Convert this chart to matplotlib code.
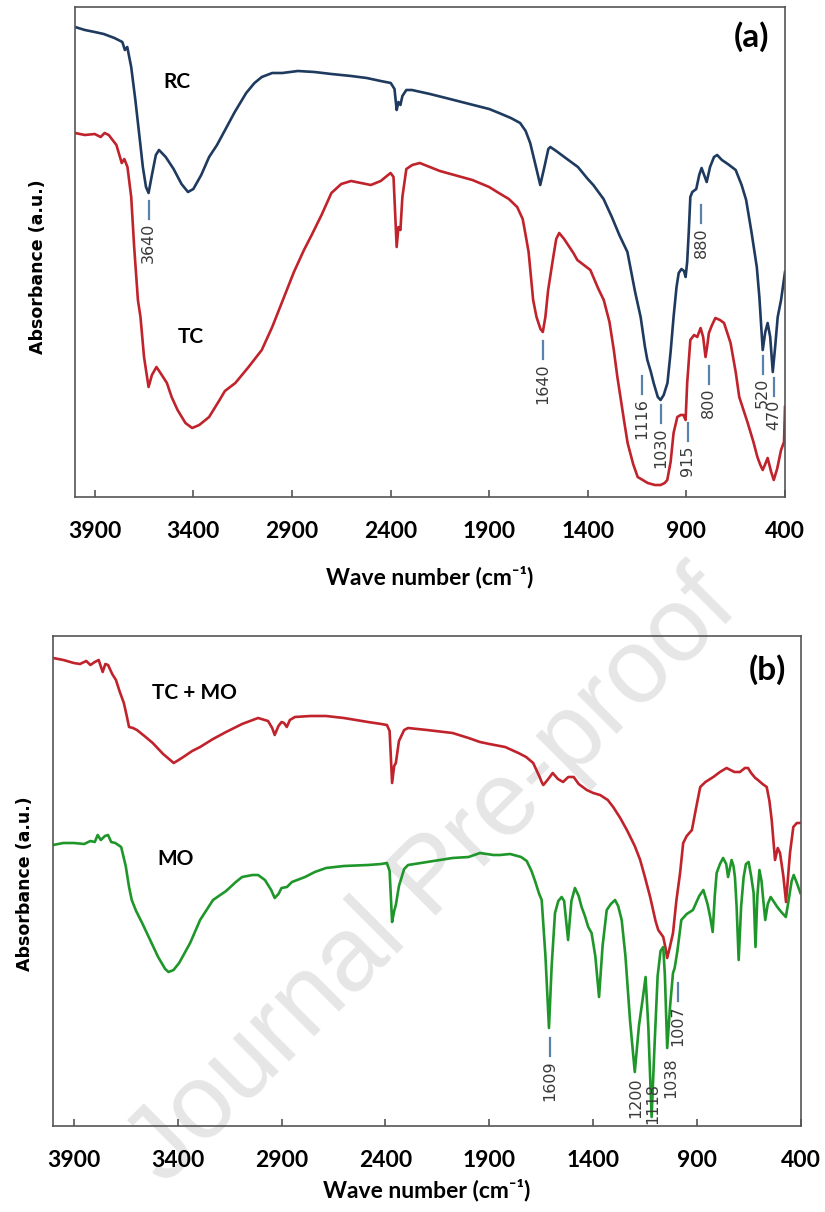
import numpy as np
import matplotlib
matplotlib.use('Agg')
import matplotlib.pyplot as plt

# ---------------- data (wavenumber in cm-1, absorbance in a.u.) ----------------
wn_rc = [4000, 3950, 3900, 3854, 3800, 3760, 3747, 3735, 3715, 3694, 3670, 3656, 3640,
         3627, 3610, 3590, 3574, 3540, 3500, 3460, 3427, 3400, 3360, 3320, 3280, 3239,
         3190, 3132, 3090, 3053, 3000, 2949, 2870, 2786, 2700, 2600, 2521, 2450, 2399,
         2380, 2369, 2360, 2350, 2340, 2320, 2292, 2200, 2119, 2000, 1900, 1850, 1790,
         1743, 1715, 1692, 1665, 1641, 1620, 1600, 1590, 1560, 1519, 1450, 1400, 1372,
         1320, 1278, 1240, 1199, 1160, 1132, 1110, 1098, 1080, 1066, 1045, 1031, 1015,
         996, 980, 965, 950, 939, 925, 912, 904, 896, 888, 880, 870, 850, 835, 823, 810,
         797, 780, 760, 744, 720, 690, 650, 620, 597, 570, 543, 530, 513, 500, 488, 475,
         462, 450, 437, 420, 400]
ab_rc = [470, 467, 465, 463, 459, 455, 447, 450, 430, 397, 355, 330, 310,
         304, 322, 342, 347, 340, 328, 313, 305, 308, 322, 340, 352, 367,
         385, 404, 414, 420, 424, 424, 426, 425, 423, 421, 419, 416, 414,
         408, 387, 395, 392, 401, 407, 407, 403, 399, 393, 388, 384, 379,
         374, 366, 354, 332, 312, 330, 348, 350, 346, 340, 330, 318, 312,
         298, 280, 262, 245, 205, 180, 150, 137, 125, 114, 100, 97, 102,
         114, 145, 180, 210, 224, 228, 226, 220, 235, 265, 300, 305, 308, 322, 329, 322,
         315, 330, 340, 342, 337, 333, 327, 312, 297, 265, 230, 200, 147, 165, 174, 160,
         125, 150, 180, 197, 225]

wn_tc = [4000, 3950, 3900, 3870, 3850, 3829, 3790, 3763, 3750, 3734, 3715, 3700, 3681,
         3668, 3650, 3627, 3610, 3587, 3560, 3534, 3510, 3480, 3440, 3406, 3370, 3320,
         3267, 3240, 3187, 3120, 3053, 3000, 2946, 2890, 2839, 2800, 2750, 2700, 2650,
         2600, 2550, 2500, 2450, 2400, 2385, 2369, 2360, 2350, 2340, 2320, 2290, 2252,
         2150, 1985, 1900, 1851, 1800, 1758, 1730, 1717, 1700, 1677, 1660, 1640, 1628,
         1615, 1601, 1575, 1560, 1545, 1520, 1473, 1453, 1387, 1346, 1319, 1290, 1268,
         1250, 1232, 1215, 1198, 1170, 1147, 1096, 1060, 1031, 1010, 997, 980, 965, 946,
         929, 915, 904, 896, 880, 861, 845, 828, 815, 803, 795, 786, 770, 753, 730, 709,
         676, 650, 632, 589, 560, 540, 525, 513, 500, 488, 470, 457, 440, 420, 405, 400]
ab_tc = [364, 362, 363, 360, 364, 362, 352, 334, 338, 330, 300, 250, 197,
         180, 140, 110, 122, 130, 122, 114, 100, 87, 74, 69, 72, 80,
         97, 106, 114, 130, 147, 170, 197, 225, 247, 262, 282, 304, 313,
         316, 314, 312, 316, 324, 320, 250, 270, 267, 300, 328, 332, 334,
         326, 317, 310, 304, 298, 290, 278, 264, 245, 197, 180, 168, 165,
         180, 207, 240, 258, 264, 258, 244, 237, 227, 208, 197, 175, 147,
         120, 97, 75, 54, 33, 20, 14, 12, 12, 14, 17, 35, 64, 80,
         82, 82, 77, 114, 157, 162, 160, 169, 160, 140, 150, 164, 172, 179, 177, 174,
         154, 125, 100, 74, 55, 40, 32, 27, 33, 39, 25, 17, 28, 47, 55, 90]

wn_tcmo = [4000, 3950, 3900, 3870, 3840, 3820, 3799, 3780, 3761, 3748, 3735, 3715, 3697,
           3680, 3659, 3645, 3634, 3615, 3596, 3560, 3520, 3470, 3419, 3380, 3330, 3292,
           3230, 3167, 3090, 3013, 2965, 2945, 2933, 2915, 2900, 2888, 2875, 2860, 2836,
           2760, 2686, 2600, 2484, 2420, 2393, 2380, 2368, 2358, 2350, 2335, 2310, 2291,
           2200, 2077, 2000, 1945, 1900, 1824, 1760, 1723, 1689, 1660, 1646, 1640, 1620,
           1595, 1570, 1545, 1520, 1494, 1470, 1431, 1400, 1367, 1330, 1304, 1270, 1238,
           1200, 1174, 1150, 1126, 1100, 1087, 1063, 1052, 1044, 1030, 1016, 1000, 982,
           967, 950, 925, 905, 885, 860, 822, 790, 758, 730, 720, 694, 670, 655, 640, 620,
           607, 585, 565, 552, 541, 525, 512, 501, 485, 472, 462, 453, 437, 420, 400]
ab_tcmo = [468, 466, 463, 462, 465, 461, 464, 466, 454, 462, 461, 452, 446,
           435, 423, 410, 399, 398, 396, 390, 383, 372, 363, 368, 375, 379,
           387, 394, 402, 408, 405, 398, 391, 400, 404, 403, 399, 406, 409,
           410, 410, 408, 404, 402, 401, 395, 343, 360, 363, 385, 396, 398,
           396, 393, 388, 384, 382, 379, 373, 369, 363, 350, 343, 341, 346,
           353, 347, 344, 349, 349, 342, 336, 333, 331, 326, 319, 308, 296,
           280, 266, 248, 229, 205, 196, 189, 178, 168, 180, 193, 225, 253,
           283, 290, 296, 318, 339, 344, 349, 354, 358, 355, 354, 354, 358, 358, 353, 348,
           346, 342, 339, 325, 306, 266, 278, 273, 250, 224, 250, 273, 299, 303, 303]

wn_mo = [4000, 3950, 3900, 3850, 3820, 3799, 3785, 3770, 3750, 3735, 3720, 3700, 3672,
         3650, 3634, 3621, 3600, 3571, 3530, 3494, 3460, 3444, 3420, 3393, 3340, 3292,
         3230, 3167, 3120, 3090, 3040, 3013, 2980, 2950, 2933, 2915, 2900, 2874, 2850,
         2787, 2740, 2686, 2600, 2484, 2420, 2393, 2380, 2368, 2358, 2350, 2335, 2310,
         2291, 2200, 2077, 2000, 1945, 1880, 1849, 1800, 1747, 1720, 1697, 1680, 1660,
         1648, 1630, 1613, 1600, 1584, 1568, 1552, 1540, 1521, 1505, 1488, 1470, 1456,
         1440, 1424, 1408, 1390, 1372, 1355, 1335, 1315, 1295, 1280, 1263, 1245, 1223,
         1200, 1180, 1160, 1148, 1135, 1119, 1105, 1090, 1076, 1063, 1055, 1044, 1030,
         1016, 1008, 995, 976, 950, 920, 890, 870, 850, 837, 825, 815, 806, 790, 775,
         760, 751, 742, 734, 725, 718, 710, 700, 688, 676, 665, 652, 640, 628, 619, 610,
         600, 590, 583, 572, 560, 546, 530, 514, 495, 473, 460, 445, 435, 420, 403]
ab_mo = [281, 283, 283, 282, 285, 284, 291, 286, 290, 291, 284, 283, 279,
         260, 239, 226, 215, 203, 185, 169, 157, 154, 156, 163, 183, 206,
         226, 235, 244, 249, 251, 251, 246, 236, 228, 232, 238, 239, 244,
         249, 254, 258, 260, 261, 262, 263, 255, 204, 215, 221, 240, 257,
         261, 264, 268, 269, 273, 271, 271, 272, 269, 265, 255, 245, 232,
         226, 170, 98, 160, 213, 225, 229, 225, 186, 225, 238, 230, 219,
         210, 199, 193, 170, 129, 180, 216, 222, 226, 220, 206, 170, 106,
         54, 100, 130, 149, 100, 9, 80, 150, 175, 179, 150, 78, 120,
         153, 158, 175, 206, 212, 216, 230, 236, 222, 209, 194, 230, 253, 262, 268,
         262, 249, 258, 266, 260, 249, 220, 166, 220, 249, 262, 264, 250, 233, 179, 230,
         256, 245, 229, 206, 222, 229, 224, 219, 214, 209, 225, 245, 251, 243, 233]

# peak labels: wavenumber position, label text, height where the marker starts
peaks_a_wn = [3627, 1628, 1127, 1031, 893, 826, 787, 513, 457]
peaks_a_txt = ['3640', '1640', '1116', '1030', '915', '880', '800', '520', '470']
peaks_a_top = [299, 159, 124, 95, 77, 295, 134, 144, 122]

peaks_b_wn = [1608, 1195, 1114, 1028, 992]
peaks_b_txt = ['1609', '1200', '1118', '1038', '1007']
peaks_b_top = [91, 54, 48, 74, 146]
peaks_b_line = [True, False, False, False, True]

xticks = [3900, 3400, 2900, 2400, 1900, 1400, 900, 400]

# ---------------- style ----------------
c_rc = '#1f3a5f'
c_red = '#c0232b'
c_green = '#1f962a'
c_mark = '#5b82ad'
c_axis = '#555555'

plt.rcParams['font.family'] = ['Lato', 'DejaVu Sans']
plt.rcParams['font.weight'] = 'bold'


def style_axes(ax):
    ax.set_facecolor('none')
    ax.set_zorder(2)
    ax.set_xlim(4000, 400)
    ax.set_ylim(0, 490)
    ax.set_xticks(xticks)
    ax.set_xticklabels([str(t) for t in xticks])
    ax.set_yticks([])
    ax.tick_params(axis='x', direction='in', length=5, width=1.2,
                   color=c_axis, pad=17, labelsize=16.5)
    for s in ax.spines.values():
        s.set_color(c_axis)
        s.set_linewidth(1.2)
    for lab in ax.get_xticklabels():
        lab.set_fontweight('bold')


def mark_peak(ax, wn, top, txt, line=True):
    L = 18
    if line:
        ax.plot([wn, wn], [top - 3, top - 3 - L], color=c_mark, lw=1.6, zorder=3)
        ttop = top - L - 7
    else:
        ttop = top - 5
    ax.text(wn, ttop, txt, rotation=90, ha='center', va='top', fontsize=11.5,
            family='DejaVu Sans', fontweight='normal', color='#3a3a3a', zorder=4)


def main():
    fig = plt.figure(figsize=(8.25, 12.12), dpi=100)

    # watermark behind the panels
    fig.text(0.525, 0.275, 'Journal Pre-proof', rotation=45, fontsize=76,
             family='Liberation Sans', fontweight='normal', color='#e6e6e6',
             ha='center', va='center', zorder=0)

    ax1 = fig.add_axes([75 / 825, 1 - 497 / 1212, 710 / 825, 490 / 1212])
    ax2 = fig.add_axes([53 / 825, 1 - 1126 / 1212, 748 / 825, 490 / 1212])

    # ---- panel (a)
    ax1.plot(wn_rc, ab_rc, color=c_rc, lw=1.9)
    ax1.plot(wn_tc, ab_tc, color=c_red, lw=1.9)
    style_axes(ax1)
    for w, t, top in zip(peaks_a_wn, peaks_a_txt, peaks_a_top):
        mark_peak(ax1, w, top, t)
    ax1.text(3483, 415, 'RC', fontsize=15, fontweight='bold', ha='center', va='center')
    ax1.text(3414, 160, 'TC', fontsize=15, fontweight='bold', ha='center', va='center')
    ax1.text(570, 460, '(a)', fontsize=24, fontweight='bold', ha='center', va='center')
    ax1.set_xlabel('Wave number (cm⁻¹)', fontsize=16.5, fontweight='bold', labelpad=17)
    ax1.set_ylabel('Absorbance (a.u.)', fontsize=12.5, fontweight='bold',
                   family='DejaVu Sans')
    ax1.yaxis.set_label_coords(-0.039, 0.471)

    # ---- panel (b)
    ax2.plot(wn_tcmo, ab_tcmo, color=c_red, lw=1.9)
    ax2.plot(wn_mo, ab_mo, color=c_green, lw=1.9)
    style_axes(ax2)
    for w, t, top, ln in zip(peaks_b_wn, peaks_b_txt, peaks_b_top, peaks_b_line):
        mark_peak(ax2, w, top, t, ln)
    ax2.text(3318, 433, 'TC + MO', fontsize=15, fontweight='bold', ha='center', va='center')
    ax2.text(3408, 267, 'MO', fontsize=15, fontweight='bold', ha='center', va='center')
    ax2.text(560, 456, '(b)', fontsize=24, fontweight='bold', ha='center', va='center')
    ax2.set_xlabel('Wave number (cm⁻¹)', fontsize=16.5, fontweight='bold', labelpad=6)
    ax2.set_ylabel('Absorbance (a.u.)', fontsize=12.5, fontweight='bold',
                   family='DejaVu Sans')
    ax2.yaxis.set_label_coords(-0.025, 0.494)

    fig.savefig('out.png', dpi=100)
    plt.close(fig)


if __name__ == "__main__":
    main()
